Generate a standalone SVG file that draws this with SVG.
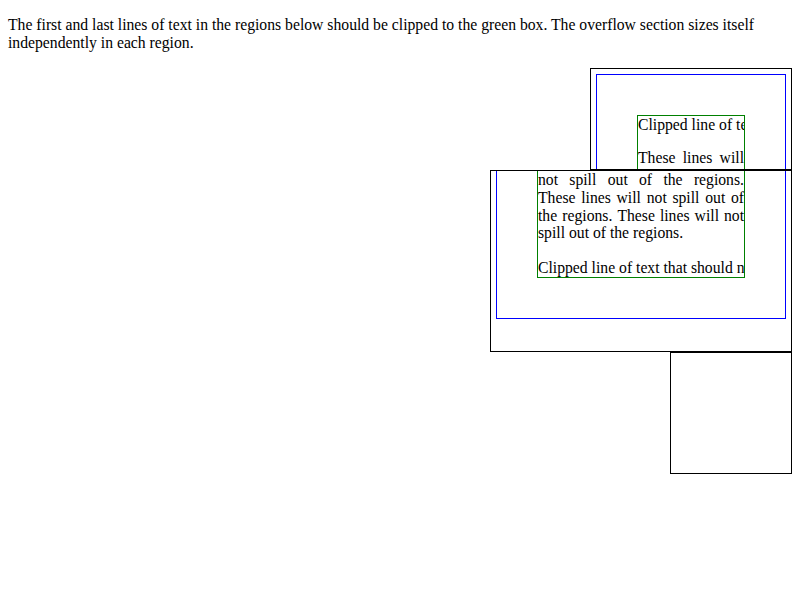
<svg xmlns="http://www.w3.org/2000/svg" width="800" height="600" viewBox="0 0 800 600">
  <style>
    text { font-family: "Liberation Serif", "Times New Roman", serif; font-size: 15.7px; fill: #000; }
    .region { fill: #fff; stroke: #000; stroke-width: 1; }
    .blue { fill: none; stroke: #0000ff; stroke-width: 1; }
    .green { fill: none; stroke: #008000; stroke-width: 1; }
  </style>
  <defs>
    <!-- each region clips its own overflow -->
    <clipPath id="clip-r1"><rect x="591" y="69" width="200" height="100"/></clipPath>
    <clipPath id="clip-r2"><rect x="491" y="171" width="300" height="180"/></clipPath>
    <!-- first/last lines are cut at the green box edge -->
    <clipPath id="clip-g1"><rect x="638" y="116" width="106" height="60"/></clipPath>
    <clipPath id="clip-g2"><rect x="538" y="170" width="206" height="107"/></clipPath>
  </defs>

  <rect width="800" height="600" fill="#fff"/>

  <g id="intro">
    <text x="8" y="29.5">The first and last lines of text in the regions below should be clipped to the green box. The overflow section sizes itself</text>
    <text x="8" y="47.5">independently in each region.</text>
  </g>

  <g id="region-1">
    <rect class="region" x="590.5" y="68.5" width="201" height="101"/>
    <g clip-path="url(#clip-r1)">
      <rect class="blue" x="596.5" y="74.5" width="189" height="260"/>
      <rect class="green" x="637.5" y="115.5" width="107" height="200"/>
      <g clip-path="url(#clip-g1)">
        <text x="638" y="129.5">Clipped line of te</text>
      </g>
      <text y="163.3"><tspan x="638">These</tspan><tspan x="682.7">lines</tspan><tspan x="719.6">will</tspan></text>
    </g>
  </g>

  <g id="region-2">
    <rect class="region" x="490.5" y="170.5" width="301" height="181"/>
    <g clip-path="url(#clip-r2)">
      <rect class="blue" x="496.5" y="150.5" width="289" height="168"/>
      <rect class="green" x="537.5" y="150.5" width="207" height="127"/>
      <text y="185.3"><tspan x="538">not</tspan><tspan x="569.3">spill</tspan><tspan x="607.7">out</tspan><tspan x="639">of</tspan><tspan x="663.4">the</tspan><tspan x="693.9">regions.</tspan></text>
      <text y="202.9"><tspan x="538">These</tspan><tspan x="581.2">lines</tspan><tspan x="616.5">will</tspan><tspan x="646.7">not</tspan><tspan x="672.4">spill</tspan><tspan x="705.2">out</tspan><tspan x="731">of</tspan></text>
      <text y="220.5"><tspan x="538">the</tspan><tspan x="562.3">regions.</tspan><tspan x="617.4">These</tspan><tspan x="659.9">lines</tspan><tspan x="694.6">will</tspan><tspan x="724">not</tspan></text>
      <text x="538" y="238.1">spill out of the regions.</text>
      <g clip-path="url(#clip-g2)">
        <text x="538" y="272.8">Clipped line of text that should n</text>
      </g>
    </g>
  </g>

  <g id="region-3">
    <rect class="region" x="670.5" y="352.5" width="121" height="121"/>
  </g>
</svg>
